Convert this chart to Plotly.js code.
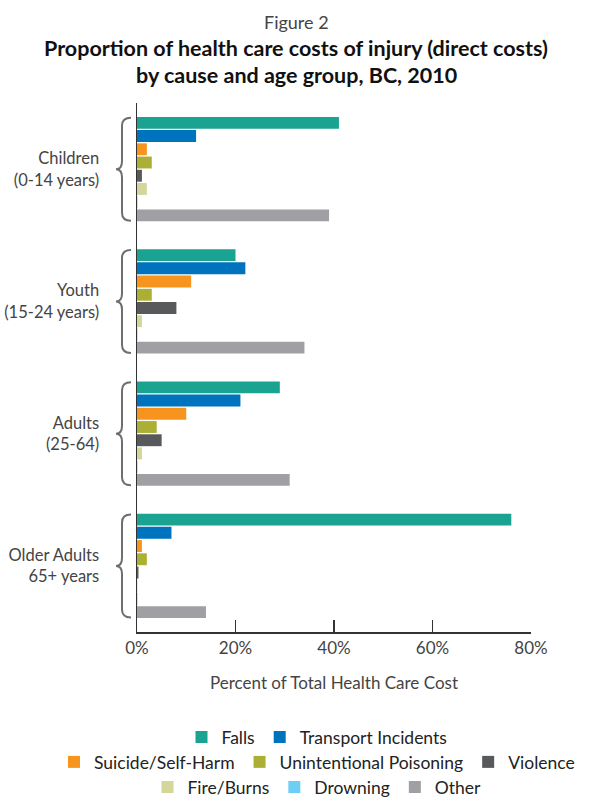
<!DOCTYPE html>
<html>
<head>
<meta charset="utf-8">
<script src="https://cdn.plot.ly/plotly-3.0.1.min.js"></script>
<style>html,body{margin:0;padding:0;background:#fff;}#chart{width:592px;height:797px;}</style>
</head>
<body>
<div id="chart"></div>
<script>
const groups = ['Children<br>(0-14 years)', 'Youth<br>(15-24 years)', 'Adults<br>(25-64)', 'Older Adults<br>65+ years'];
const causes = ['Falls', 'Transport Incidents', 'Suicide/Self-Harm', 'Unintentional Poisoning', 'Violence', 'Fire/Burns', 'Drowning', 'Other'];
const falls      = [41, 20, 29, 76];
const transport  = [12, 22, 21, 7];
const suicide    = [2, 11, 10, 1];
const poisoning  = [3, 3, 4, 2];
const violence   = [1, 8, 5, 0.3];
const fireBurns  = [2, 1, 1, 0.1];
const drowning   = [0.1, 0.1, 0.1, 0.1];
const other      = [39, 34, 31, 14];
const xTicks     = [0, 20, 40, 60, 80];
const xTickText  = ['0%', '20%', '40%', '60%', '80%'];
const titleLines = ['Figure 2', 'Proportion of health care costs of injury (direct costs)', 'by cause and age group, BC, 2010'];

const seriesValues = [falls, transport, suicide, poisoning, violence, fireBurns, drowning, other];
const colors = ['#1aa391', '#0073bf', '#f7941e', '#abb034', '#58595b', '#d4d69a', '#6dcff6', '#a0a0a4'];
const legendIds = ['legend', 'legend2', 'legend3'];
const legendOf = ['legend', 'legend', 'legend2', 'legend2', 'legend2', 'legend3', 'legend3', 'legend3'];

const FONT = 'Lato, "Noto Sans", sans-serif';

const traces = causes.map((c, i) => ({
  type: 'bar',
  orientation: 'h',
  name: c,
  y: groups,
  x: seriesValues[i],
  marker: {color: colors[i]},
  legend: legendOf[i],
  hoverinfo: 'x+name'
}));

const ML = 137, MT = 103, plotW = 394, plotH = 529;
const n = groups.length;
const shapes = groups.map((g, i) => {
  const c = 1 - (i + 0.5) / n;
  const half = 51.5 / plotH;
  const top = c + half, bot = c - half;
  const xE = -6 / plotW, xS = -15 / plotW, xT = -21 / plotW;
  const r = 8 / plotH;
  const path = `M ${xE},${top} Q ${xS},${top} ${xS},${top - r} L ${xS},${c + r} Q ${xS},${c} ${xT},${c} ` +
               `Q ${xS},${c} ${xS},${c - r} L ${xS},${bot + r} Q ${xS},${bot} ${xE},${bot}`;
  return {type: 'path', xref: 'paper', yref: 'paper', path: path,
          line: {color: '#6d6e71', width: 2}};
});

const pyToPaper = px => (MT + plotH - px) / plotH;
const pxToPaper = px => (px - ML) / plotW;

const titleY = [22, 48, 75].map(pyToPaper);
const annotations = titleLines.map((t, i) => ({
  text: i === 0 ? t : '<b>' + t + '</b>',
  xref: 'paper', yref: 'paper', x: pxToPaper(296), y: titleY[i],
  xanchor: 'center', yanchor: 'middle', showarrow: false,
  font: i === 0 ? {family: FONT, size: 18, color: '#444'} : {family: FONT, size: 21.5, color: '#111'}
}));

const legendRowY = [737, 762, 787];
const legendCenterX = 317;
const legendBase = {
  orientation: 'h', xref: 'paper', x: -0.3, xanchor: 'left',
  yref: 'paper', yanchor: 'middle', font: {family: FONT, size: 17.5, color: '#222'}, bgcolor: 'rgba(0,0,0,0)',
  itemwidth: 30, tracegroupgap: 0
};

const layout = {
  width: 592, height: 797,
  paper_bgcolor: '#fff', plot_bgcolor: '#fff',
  font: {family: FONT, color: '#444'},
  margin: {l: ML, r: 592 - ML - plotW, t: MT, b: 797 - MT - plotH, autoexpand: false},
  barmode: 'group', bargap: 0.2, bargroupgap: 0.1,
  xaxis: {
    range: [0, 80], tickvals: xTicks, ticktext: xTickText,
    showgrid: false, zeroline: false, showline: true, linecolor: '#333', linewidth: 1.5,
    ticks: 'inside', ticklen: 12, tickcolor: '#333', tickwidth: 1.5,
    tickfont: {family: FONT, size: 17, color: '#444'},
    title: {text: 'Percent of Total Health Care Cost', font: {family: FONT, size: 17, color: '#444'}, standoff: 20},
    fixedrange: true, automargin: false
  },
  yaxis: {
    autorange: 'reversed', type: 'category',
    showgrid: false, zeroline: false, showline: true, linecolor: '#333', linewidth: 1.5,
    ticks: '', ticklabelstandoff: 33,
    tickfont: {family: FONT, size: 16.5, color: '#444'},
    fixedrange: true, automargin: false
  },
  shapes: shapes,
  annotations: annotations,
  showlegend: true
};
legendIds.forEach((id, k) => {
  layout[id] = Object.assign({}, legendBase, {y: pyToPaper(legendRowY[k])});
});

Plotly.newPlot('chart', traces, layout, {displayModeBar: false, staticPlot: true}).then(gd => {
  // center each legend row on the reference's legend centre
  const upd = {};
  legendIds.forEach(id => {
    const w = gd._fullLayout[id]._width;
    upd[id + '.x'] = pxToPaper(legendCenterX - w / 2);
  });
  return Plotly.relayout(gd, upd);
});
</script>
</body>
</html>
